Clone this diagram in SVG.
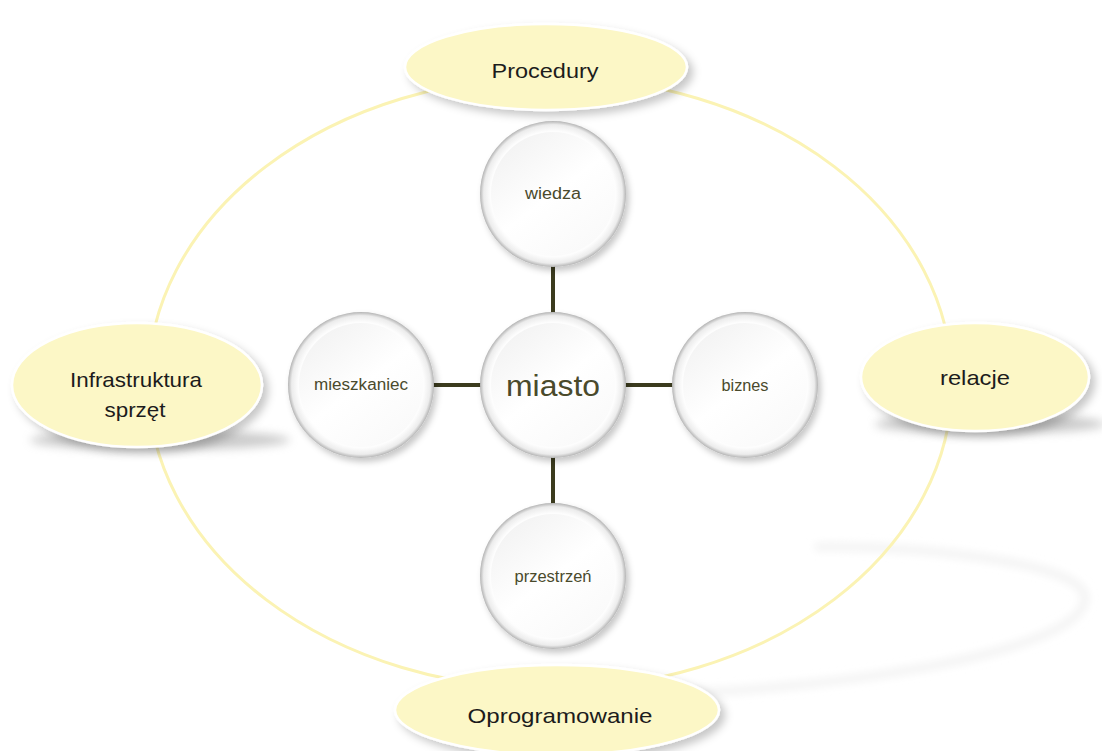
<svg xmlns="http://www.w3.org/2000/svg" width="1102" height="751" viewBox="0 0 1102 751">
  <style>
    .ring { fill: none; stroke: #fbf3b4; stroke-width: 3; }
    .pill { fill: #fcf7c6; stroke: #ffffff; stroke-width: 2.5; filter: url(#softShadow); }
    .pill-text { font-family: "Liberation Sans", Arial, sans-serif; font-size: 21px; fill: #1c1c1c; text-anchor: middle; }
    .bead-outer { fill: url(#beadEdge); filter: url(#beadShadow); }
    .bead-inner { fill: url(#beadFace); }
    .bead-text { font-family: "Liberation Sans", Arial, sans-serif; font-size: 16px; fill: #4a4a2c; text-anchor: middle; }
    .link { stroke: #3b3b1e; stroke-width: 4; fill: none; }
  </style>
  <defs>
    <filter id="softShadow" x="-20%" y="-30%" width="150%" height="170%">
      <feDropShadow dx="5" dy="5" stdDeviation="4" flood-color="#000" flood-opacity="0.22"/>
    </filter>
    <filter id="beadShadow" x="-20%" y="-20%" width="150%" height="150%">
      <feDropShadow dx="3" dy="4" stdDeviation="3" flood-color="#000" flood-opacity="0.22"/>
    </filter>
    <filter id="haze" x="-20%" y="-50%" width="140%" height="200%">
      <feGaussianBlur stdDeviation="5"/>
    </filter>
    <filter id="haze2" x="-10%" y="-20%" width="120%" height="140%">
      <feGaussianBlur stdDeviation="4"/>
    </filter>
    <radialGradient id="beadEdge" cx="50%" cy="50%" r="50%">
      <stop offset="0" stop-color="#ffffff"/>
      <stop offset="0.86" stop-color="#fdfdfd"/>
      <stop offset="0.95" stop-color="#ececec"/>
      <stop offset="1" stop-color="#b4b4b4"/>
    </radialGradient>
    <linearGradient id="beadFace" x1="0.2" y1="0.1" x2="0.8" y2="0.9">
      <stop offset="0" stop-color="#f4f4f4"/>
      <stop offset="0.5" stop-color="#ffffff"/>
      <stop offset="1" stop-color="#fafafa"/>
    </linearGradient>
  </defs>

  <rect width="1102" height="751" fill="#ffffff"/>

  <!-- faint reflection arc, lower right -->
  <path d="M 815 547 C 900 545 1085 560 1085 598 C 1085 650 850 690 640 695" fill="none" stroke="#f1f1f1" stroke-width="7" filter="url(#haze2)"/>

  <!-- outer cycle ring -->
  <ellipse class="ring" cx="550" cy="383" rx="402" ry="306"/>

  <!-- ground shadows under the side ellipses -->
  <ellipse cx="160" cy="440" rx="130" ry="10" fill="#9a9a9a" opacity="0.5" filter="url(#haze)"/>
  <ellipse cx="990" cy="424" rx="115" ry="10" fill="#9a9a9a" opacity="0.5" filter="url(#haze)"/>

  <!-- connectors -->
  <g id="connectors">
    <line class="link" x1="553" y1="266" x2="553" y2="314"/>
    <line class="link" x1="553" y1="456" x2="553" y2="504"/>
    <line class="link" x1="433" y1="385" x2="482" y2="385"/>
    <line class="link" x1="625" y1="385" x2="673" y2="385"/>
  </g>

  <!-- outer cycle nodes -->
  <g id="procedury">
    <ellipse class="pill" cx="546" cy="67" rx="141" ry="43"/>
    <text class="pill-text" x="545" y="78" textLength="107" lengthAdjust="spacingAndGlyphs">Procedury</text>
  </g>
  <g id="infrastruktura">
    <ellipse class="pill" cx="137" cy="385" rx="125" ry="62"/>
    <text class="pill-text" x="136" y="387" textLength="132" lengthAdjust="spacingAndGlyphs">Infrastruktura</text>
    <text class="pill-text" x="135" y="417" textLength="61" lengthAdjust="spacingAndGlyphs">sprzęt</text>
  </g>
  <g id="relacje">
    <ellipse class="pill" cx="975" cy="377" rx="114" ry="54"/>
    <text class="pill-text" x="975" y="385" textLength="70" lengthAdjust="spacingAndGlyphs">relacje</text>
  </g>
  <g id="oprogramowanie">
    <ellipse class="pill" cx="557" cy="710" rx="162" ry="45"/>
    <text class="pill-text" x="560" y="723" textLength="185" lengthAdjust="spacingAndGlyphs">Oprogramowanie</text>
  </g>

  <!-- inner nodes -->
  <g id="wiedza">
    <circle class="bead-outer" cx="553" cy="194" r="73"/>
    <circle class="bead-inner" cx="553" cy="194" r="62"/>
    <text class="bead-text" x="553" y="199" textLength="56" lengthAdjust="spacingAndGlyphs">wiedza</text>
  </g>
  <g id="miasto">
    <circle class="bead-outer" cx="553" cy="385" r="73"/>
    <circle class="bead-inner" cx="553" cy="385" r="62"/>
    <text class="bead-text" x="553" y="396" style="font-size:30px" textLength="94" lengthAdjust="spacingAndGlyphs">miasto</text>
  </g>
  <g id="mieszkaniec">
    <circle class="bead-outer" cx="361" cy="385" r="73"/>
    <circle class="bead-inner" cx="361" cy="385" r="62"/>
    <text class="bead-text" x="361" y="390" textLength="94" lengthAdjust="spacingAndGlyphs">mieszkaniec</text>
  </g>
  <g id="biznes">
    <circle class="bead-outer" cx="745" cy="385" r="73"/>
    <circle class="bead-inner" cx="745" cy="385" r="62"/>
    <text class="bead-text" x="745" y="391" textLength="47" lengthAdjust="spacingAndGlyphs">biznes</text>
  </g>
  <g id="przestrzen">
    <circle class="bead-outer" cx="553" cy="576" r="73"/>
    <circle class="bead-inner" cx="553" cy="576" r="62"/>
    <text class="bead-text" x="553" y="582" textLength="77" lengthAdjust="spacingAndGlyphs">przestrzeń</text>
  </g>
</svg>
